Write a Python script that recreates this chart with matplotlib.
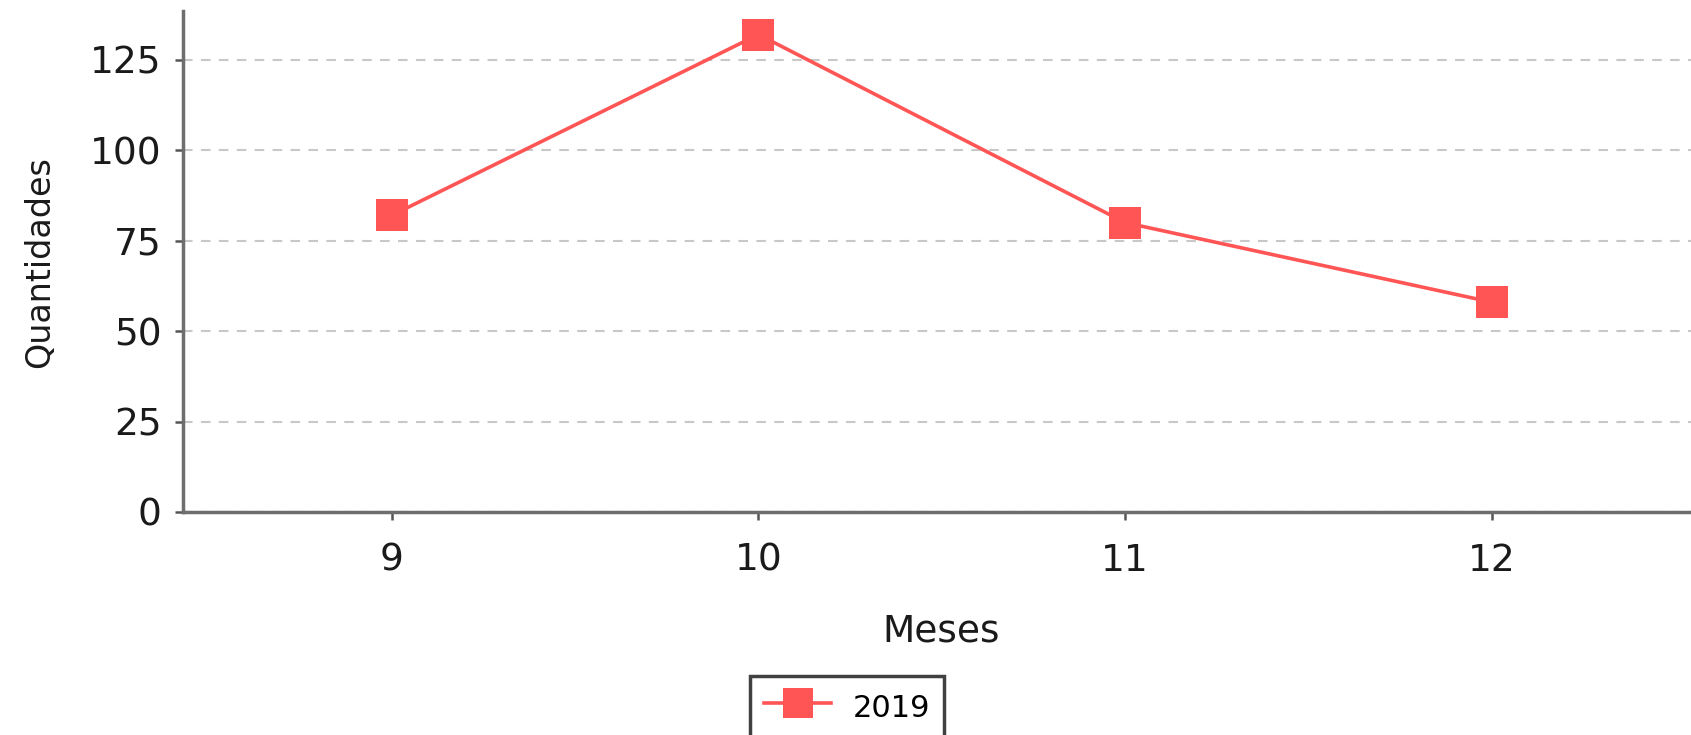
import matplotlib
matplotlib.use("Agg")
import matplotlib.pyplot as plt

meses = [9, 10, 11, 12]
quantidades_2019 = [82, 132, 80, 58]
serie_label = "2019"
y_ticks = [0, 25, 50, 75, 100, 125]

W, H = 1691, 735
fig = plt.figure(figsize=(W / 100, H / 100), dpi=100)
ax = fig.add_axes([182.7 / W, (H - 512) / H, 1 - 182.7 / W, (512 - 11) / H])

ax.plot(meses, quantidades_2019, color="#ff5555", lw=2.6, marker="s",
        markersize=23, markeredgewidth=0, label=serie_label, zorder=3)

ax.set_xlim(8.43, 12.543)
ax.set_ylim(0, 138.5)
ax.set_xticks(meses)
ax.set_yticks(y_ticks)
ax.yaxis.grid(True, color="#c8c8c8", lw=1.5, linestyle=(0, (4.6, 4.0)))
ax.set_axisbelow(True)

for s in ["top", "right"]:
    ax.spines[s].set_visible(False)
for s in ["left", "bottom"]:
    ax.spines[s].set_color("#6e6e6e")
    ax.spines[s].set_linewidth(2.5)

ax.tick_params(axis="both", labelsize=27, colors="#1a1a1a", length=6,
               width=1.8, direction="out")
ax.tick_params(axis="x", pad=16, color="#555555")
ax.tick_params(axis="y", pad=9, color="#555555")

fig.text(40 / W, 1 - 262 / H, "Quantidades", rotation=90, ha="center",
         va="center", fontsize=24, color="#1a1a1a")
fig.text(941 / W, 1 - 631 / H, "Meses", ha="center", va="center",
         fontsize=27, color="#1a1a1a")

leg = fig.legend(loc="upper center", bbox_to_anchor=(847 / W, (H - 676) / H),
                 fontsize=22, frameon=True, fancybox=False, edgecolor="#111111",
                 handlelength=2.2, handleheight=1.3, handletextpad=0.7,
                 borderpad=0.45, borderaxespad=0, markerscale=0.95)
leg.get_frame().set_linewidth(2.5)

fig.savefig("out.png", dpi=100)
